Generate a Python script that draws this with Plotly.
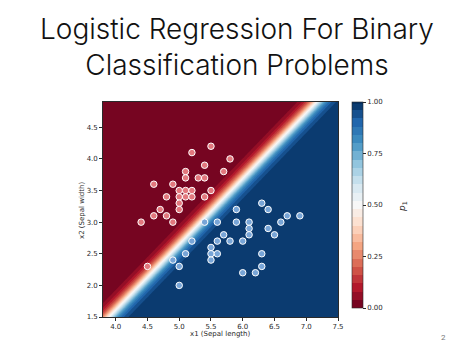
import numpy as np
import plotly.graph_objects as go

# ---- data ----
class0_x = [5.5, 5.2, 5.8, 5.4, 5.1, 5.7, 5.1, 5.3, 5.4, 4.6, 4.9, 5.0, 5.1, 5.2, 5.5,
            4.8, 5.0, 5.1, 5.2, 5.4, 5.0, 4.7, 5.0, 4.6, 4.8, 4.4, 4.9, 4.5]
class0_y = [4.2, 4.1, 4.0, 3.9, 3.8, 3.8, 3.7, 3.7, 3.7, 3.6, 3.6, 3.5, 3.5, 3.5, 3.5,
            3.4, 3.4, 3.4, 3.4, 3.4, 3.3, 3.2, 3.2, 3.1, 3.1, 3.0, 3.0, 2.3]
class1_x = [6.3, 5.9, 6.4, 6.7, 6.9, 5.4, 5.6, 5.9, 6.1, 6.6, 6.1, 6.4, 5.7, 6.1, 6.5,
            5.2, 5.6, 5.8, 6.0, 5.5, 5.1, 5.5, 5.6, 6.3, 4.9, 5.5, 5.0, 6.3, 6.0, 6.2, 5.0]
class1_y = [3.3, 3.2, 3.2, 3.1, 3.1, 3.0, 3.0, 3.0, 3.0, 3.0, 2.9, 2.9, 2.8, 2.8, 2.8,
            2.7, 2.7, 2.7, 2.7, 2.6, 2.5, 2.5, 2.5, 2.5, 2.4, 2.4, 2.3, 2.3, 2.2, 2.2, 2.0]

# logistic model (estimated from the boundary in the picture)
coef = [10.4, -10.0]
intercept = -25.5
x_range = [3.8, 7.5]
y_range = [1.5, 4.9]

x_ticks = [4.0, 4.5, 5.0, 5.5, 6.0, 6.5, 7.0, 7.5]
y_ticks = [1.5, 2.0, 2.5, 3.0, 3.5, 4.0, 4.5]
cb_ticks = [0.0, 0.25, 0.5, 0.75, 1.0]

title_lines = ["Logistic Regression For Binary", "Classification Problems"]

# ---- figure ----
rdbu = ['rgb(103,0,31)', 'rgb(178,24,43)', 'rgb(214,96,77)', 'rgb(244,165,130)',
        'rgb(253,219,199)', 'rgb(247,247,247)', 'rgb(209,229,240)', 'rgb(146,197,222)',
        'rgb(67,147,195)', 'rgb(33,102,172)', 'rgb(5,48,97)']
cscale = [[i / 10, c] for i, c in enumerate(rdbu)]

gx = np.linspace(x_range[0], x_range[1], 300)
gy = np.linspace(y_range[0], y_range[1], 300)
XX, YY = np.meshgrid(gx, gy)
Z = 1.0 / (1.0 + np.exp(-(coef[0] * XX + coef[1] * YY + intercept)))

W, H = 474, 355
L, R, T, B = 103, 136, 102, 38
pw, ph = W - L - R, H - T - B

def px_x(p):
    return (p - L) / pw

def px_y(p):
    return (H - B - p) / ph

TXT = '#2a2a2a'
fig = go.Figure()
fig.add_trace(go.Contour(
    x=gx, y=gy, z=Z, colorscale=cscale, zmin=0, zmax=1,
    contours=dict(start=0, end=1, size=0.04, coloring='fill', showlines=False),
    line=dict(width=0),
    colorbar=dict(
        x=px_x(352), xanchor='left', xpad=0, thickness=11,
        y=1.0, yanchor='top', ypad=0, len=206 / ph, lenmode='fraction',
        tickvals=cb_ticks, ticktext=[f"{v:.2f}" for v in cb_ticks],
        ticks='outside', ticklen=3, tickwidth=0.6, tickcolor=TXT,
        tickfont=dict(size=7, color=TXT, family='DejaVu Sans'),
        outlinewidth=0.6, outlinecolor=TXT,
    ),
    hoverinfo='skip', showscale=True,
))
fig.add_trace(go.Scatter(
    x=class0_x, y=class0_y, mode='markers',
    marker=dict(size=6.5, color='rgb(226,120,125)', line=dict(color='white', width=1)),
    showlegend=False,
))
fig.add_trace(go.Scatter(
    x=class1_x, y=class1_y, mode='markers',
    marker=dict(size=6.5, color='rgb(120,165,215)', line=dict(color='white', width=1)),
    showlegend=False,
))

axis_common = dict(
    showgrid=False, zeroline=False, showline=True, mirror=True, linecolor=TXT, linewidth=0.6,
    ticks='outside', ticklen=3, tickwidth=0.6, tickcolor=TXT,
    tickfont=dict(size=7, color=TXT, family='DejaVu Sans'),
)
fig.update_xaxes(range=x_range, tickvals=x_ticks, ticktext=[f"{v:.1f}" for v in x_ticks], **axis_common)
fig.update_yaxes(range=y_range, tickvals=y_ticks, ticktext=[f"{v:.1f}" for v in y_ticks], **axis_common)

title_font = dict(size=28, color='#111', family='Inter', weight=300)
annos = [
    dict(text='<br>'.join(title_lines), x=px_x(237), y=px_y(47), xref='paper', yref='paper',
         xanchor='center', yanchor='middle', showarrow=False, font=title_font, align='center'),
    dict(text='x1 (Sepal length)', x=px_x(220), y=px_y(334), xref='paper', yref='paper',
         xanchor='center', yanchor='middle', showarrow=False,
         font=dict(size=7, color=TXT, family='DejaVu Sans')),
    dict(text='x2 (Sepal width)', x=px_x(82), y=px_y(210), xref='paper', yref='paper',
         xanchor='center', yanchor='middle', showarrow=False, textangle=-90,
         font=dict(size=7, color=TXT, family='DejaVu Sans')),
    dict(text='<i>p</i><sub>1</sub>', x=px_x(402), y=px_y(207), xref='paper', yref='paper',
         xanchor='center', yanchor='middle', showarrow=False, textangle=-90,
         font=dict(size=9, color=TXT, family='DejaVu Sans')),
    dict(text='2', x=px_x(443), y=px_y(337), xref='paper', yref='paper',
         xanchor='center', yanchor='middle', showarrow=False,
         font=dict(size=8, color='#777', family='Roboto')),
]

fig.update_layout(
    width=W, height=H, margin=dict(l=L, r=R, t=T, b=B),
    paper_bgcolor='white', plot_bgcolor='white',
    annotations=annos, showlegend=False,
)
fig.write_html("out.html")
